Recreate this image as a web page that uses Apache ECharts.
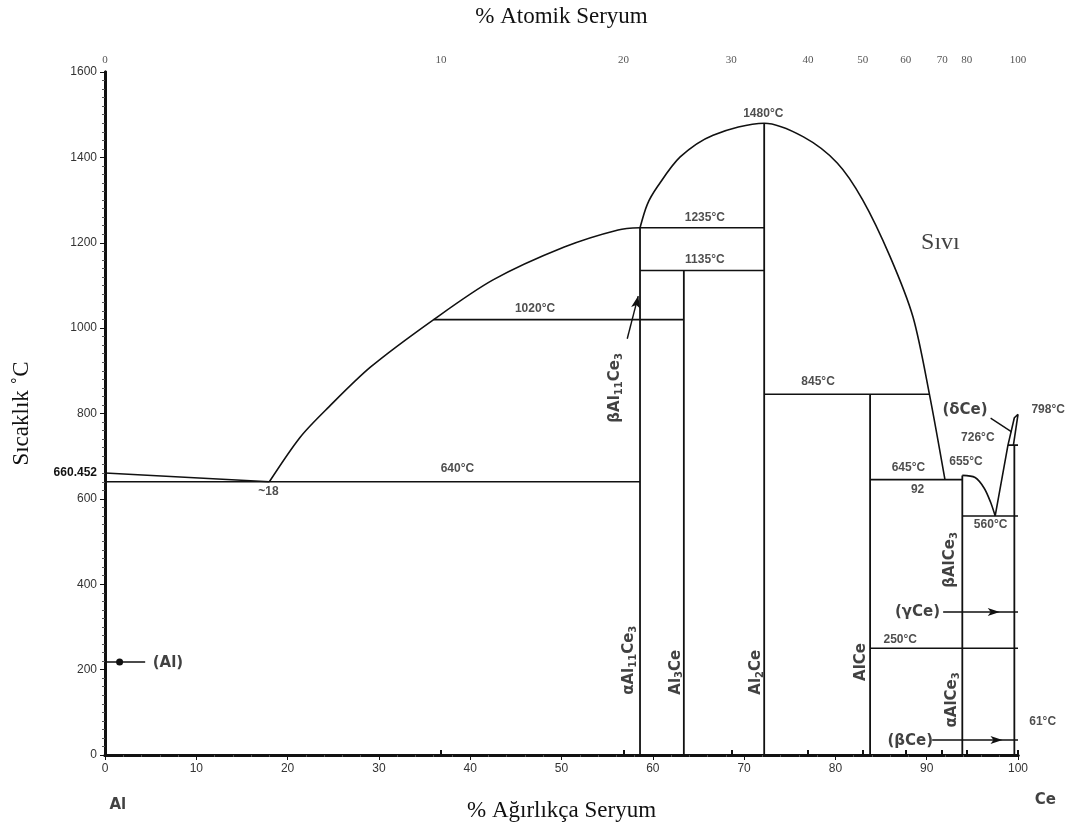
<!DOCTYPE html>
<html>
<head>
<meta charset="utf-8">
<script src="https://cdn.jsdelivr.net/npm/echarts@6/dist/echarts.min.js"></script>
<style>
  html, body { margin: 0; padding: 0; background: #fff; }
  #chart { width: 1085px; height: 835px; }
</style>
</head>
<body>
<div id="chart"></div>
<script>
// Al-Ce faz diyagramı (x: % ağırlıkça Ce, y: sıcaklık °C)
var yTicks = [0, 200, 400, 600, 800, 1000, 1200, 1400, 1600];
var alMelt = 660.452;
var atomikEtiket = [0, 10, 20, 30, 40, 50, 60, 70, 80, 100];
var atomikKonum = [0, 36.8, 56.8, 68.6, 77.0, 83.0, 87.7, 91.7, 94.4, 100];

// eğriler [wt%, °C]
var sivilusAl = [[0, 660.452], [18, 640]];
var sivilusAl11Ce3 = [[18, 640], [21.4, 745], [24.5, 815], [29.1, 909], [36, 1020], [42.5, 1113], [50.3, 1190], [56.2, 1230], [58.6, 1235]];
var kubbeAl2Ce = [[58.6, 1235], [59.4, 1290], [60.5, 1331], [63, 1401], [66.6, 1452], [72.2, 1480], [76.5, 1448], [80.2, 1387], [83, 1300], [86, 1167], [88.5, 1026], [90.3, 845], [92, 645]];
var sivilusAlCe3 = [[93.9, 655], [95.3, 650], [96.3, 625], [97, 592], [97.5, 560]];
var sivilusCe = [[97.5, 560], [98.9, 726], [99.6, 790], [100, 798]];
var deltaCe = [[99.5, 726], [100, 798]];

// yatay çizgiler [x1, x2, T]
var izotermler = [[0, 58.6, 640], [36, 63.4, 1020], [58.6, 72.2, 1235], [58.6, 72.2, 1135], [72.2, 90.3, 845],
  [83.8, 93.9, 645], [93.9, 100, 560], [83.8, 100, 250], [98.9, 100, 726]];
// dikey çizgiler [x, T1, T2]
var bilesikler = [[58.6, 0, 1235], [63.4, 0, 1135], [72.2, 0, 1480], [83.8, 0, 845], [93.9, 0, 655], [99.6, 0, 726]];

// oklar
var okAl = [[0, 218], [4.4, 218]];
var okGammaCe = [[91.8, 335], [100, 335]];
var okBetaCe = [[90.6, 35], [100, 35]];
var okBetaAl11 = [[57.2, 975], [58.4, 1075]];
var okDeltaCe = [[97.0, 789], [99.3, 757]];

// yazılar [metin, x, y]
var sicaklikYazilari = [
  ['1480°C', 72.1, 1502], ['1235°C', 65.7, 1258], ['1135°C', 65.7, 1160], ['1020°C', 47.1, 1045],
  ['640°C', 38.6, 670], ['~18', 17.9, 618], ['845°C', 78.1, 874], ['645°C', 88.0, 673],
  ['655°C', 94.3, 686], ['92', 89.0, 622], ['560°C', 97.0, 540], ['726°C', 95.6, 743],
  ['798°C', 103.3, 808], ['250°C', 87.1, 269], ['61°C', 102.7, 77]
];
var fazYazilari = [
  ['(δCe)', 94.2, 808], ['(γCe)', 89.0, 335], ['(βCe)', 88.2, 33], ['(Al)', 6.9, 215]
];
var dikeyYazilar = [
  ['{n|βAl}{s|11}{n|Ce}{s|3}', 55.9, 860], ['{n|αAl}{s|11}{n|Ce}{s|3}', 57.4, 222],
  ['{n|Al}{s|3}{n|Ce}', 62.5, 194], ['{n|Al}{s|2}{n|Ce}', 71.3, 194], ['{n|AlCe}', 82.8, 218],
  ['{n|βAlCe}{s|3}', 92.6, 457], ['{n|αAlCe}{s|3}', 92.8, 129]
];

var chart = echarts.init(document.getElementById('chart'));
var siyah = '#111';

function cizgi(data, w, smooth) {
  return {
    type: 'line', data: data, symbol: 'none', smooth: smooth || false,
    lineStyle: { color: siyah, width: w || 1.4 }, silent: true, animation: false, z: 3
  };
}
function ok(data, ucIndex, simge, boyut) {
  var d = data.map(function (p, i) {
    return { value: p, symbol: i === ucIndex ? simge : 'none', symbolSize: boyut };
  });
  return {
    type: 'line', data: d, showAllSymbol: true,
    itemStyle: { color: siyah }, lineStyle: { color: siyah, width: 1.4 }, silent: true, animation: false, z: 4
  };
}

var seriler = [];
seriler.push(cizgi(sivilusAl, 1.6));
seriler.push(cizgi(sivilusAl11Ce3, 1.6, 0.3));
seriler.push(cizgi(kubbeAl2Ce, 1.6, 0.3));
seriler.push(cizgi(sivilusAlCe3, 1.6, 0.3));
seriler.push(cizgi(sivilusCe, 1.6));
seriler.push(cizgi(deltaCe, 1.6));
izotermler.forEach(function (s) { seriler.push(cizgi([[s[0], s[2]], [s[1], s[2]]], 1.6)); });
bilesikler.forEach(function (s) { seriler.push(cizgi([[s[0], s[1]], [s[0], s[2]]], 1.8)); });

var okAlSeri = ok(okAl, -1, 'none', 0);
okAlSeri.data.splice(1, 0, { value: [1.6, 218], symbol: 'circle', symbolSize: 7 });
seriler.push(okAlSeri);
var okG = ok(okGammaCe, -1, 'none', 0);
okG.data.splice(1, 0, { value: [98, 335], symbol: 'arrow', symbolSize: [6, 12], symbolRotate: -90 });
seriler.push(okG);
var okB = ok(okBetaCe, -1, 'none', 0);
okB.data.splice(1, 0, { value: [98.3, 35], symbol: 'arrow', symbolSize: [6, 12], symbolRotate: -90 });
seriler.push(okB);
var okBA = ok(okBetaAl11, 1, 'arrow', [7, 12]);
okBA.data[1].symbolRotate = -12;
seriler.push(okBA);
seriler.push(ok(okDeltaCe, -1, 'none', 0));

function yaziSerisi(liste, stil) {
  return {
    type: 'scatter', symbolSize: 0, silent: true, animation: false, clip: false, z: 5,
    data: liste.map(function (t) {
      return { value: [t[1], t[2]], label: Object.assign({ show: true, position: 'inside', formatter: t[0] }, stil) };
    })
  };
}
seriler.push(yaziSerisi(sicaklikYazilari, {
  fontFamily: 'Liberation Sans Narrow, Liberation Sans, sans-serif', fontSize: 12, fontWeight: 'bold', color: '#222'
}));
seriler.push(yaziSerisi(fazYazilari, {
  fontFamily: 'DejaVu Sans, sans-serif', fontSize: 15, fontWeight: 'bold', color: '#111'
}));
seriler.push(yaziSerisi(dikeyYazilar, {
  rotate: 90, color: '#111',
  rich: {
    n: { fontFamily: 'DejaVu Sans, sans-serif', fontSize: 15, fontWeight: 'bold', lineHeight: 18, color: '#111' },
    s: { fontFamily: 'DejaVu Sans, sans-serif', fontSize: 10, fontWeight: 'bold', lineHeight: 10, verticalAlign: 'bottom', color: '#111' }
  }
}));
seriler.push(yaziSerisi([['Sıvı', 91.5, 1199]], {
  fontFamily: 'Liberation Serif, serif', fontSize: 24, color: '#111'
}));
seriler.push(yaziSerisi([['Al', 1.4, -117], ['Ce', 103, -105]], {
  fontFamily: 'DejaVu Sans, sans-serif', fontSize: 15, fontWeight: 'bold', color: '#111'
}));

var option = {
  backgroundColor: '#fff',
  animation: false,
  grid: { left: 105, right: 67, top: 72, bottom: 80, containLabel: false, outerBoundsMode: 'none' },
  xAxis: [
    {
      type: 'value', min: 0, max: 100, interval: 10, position: 'bottom',
      name: '% Ağırlıkça Seryum', nameLocation: 'middle', nameGap: 44,
      nameTextStyle: { fontFamily: 'Liberation Serif, serif', fontSize: 23, color: '#111' },
      axisLine: { lineStyle: { color: siyah, width: 3 } },
      axisTick: { length: 5, lineStyle: { color: siyah } },
      minorTick: { show: true, splitNumber: 5, length: 2, lineStyle: { color: '#555' } },
      axisLabel: { fontFamily: 'Liberation Sans, sans-serif', fontSize: 12, color: '#333', margin: 8 },
      splitLine: { show: false }
    },
    {
      type: 'value', min: 0, max: 100, position: 'top',
      name: '% Atomik Seryum', nameLocation: 'middle', nameGap: 44,
      nameTextStyle: { fontFamily: 'Liberation Serif, serif', fontSize: 23, color: '#111' },
      axisLine: { lineStyle: { color: siyah, width: 3 } },
      axisTick: { customValues: atomikKonum, length: 5, lineStyle: { color: siyah, width: 2 } },
      axisLabel: {
        customValues: atomikKonum, fontFamily: 'Liberation Serif, serif', fontSize: 11, color: '#555', margin: 6,
        formatter: function (v) {
          var i = atomikKonum.indexOf(v);
          return i < 0 ? '' : String(atomikEtiket[i]);
        }
      },
      splitLine: { show: false }
    }
  ],
  yAxis: [
    {
      type: 'value', min: 0, max: 1600, interval: 200,
      name: 'Sıcaklık ˚C', nameLocation: 'middle', nameGap: 72, nameRotate: 90,
      nameTextStyle: { fontFamily: 'Liberation Serif, serif', fontSize: 23, color: '#111' },
      axisLine: { show: true, lineStyle: { color: siyah, width: 3 } },
      axisTick: { show: true, length: 5, lineStyle: { color: siyah } },
      minorTick: { show: true, splitNumber: 10, length: 3, lineStyle: { color: '#555' } },
      axisLabel: {
        customValues: yTicks.concat([alMelt]), fontFamily: 'Liberation Sans, sans-serif', fontSize: 12, color: '#333', margin: 8,
        formatter: function (v) { return v === alMelt ? '{b|660.452}' : String(v); },
        rich: { b: { fontFamily: 'Liberation Sans, sans-serif', fontSize: 12, fontWeight: 'bold', color: '#111' } }
      },
      splitLine: { show: false }
    },
    {
      type: 'value', min: 0, max: 1600, position: 'right',
      axisLine: { show: true, lineStyle: { color: siyah, width: 3 } },
      axisTick: { show: false }, axisLabel: { show: false }, splitLine: { show: false }
    }
  ],
  series: seriler
};
chart.setOption(option);
window.addEventListener('resize', function () { chart.resize(); });
</script>
</body>
</html>
